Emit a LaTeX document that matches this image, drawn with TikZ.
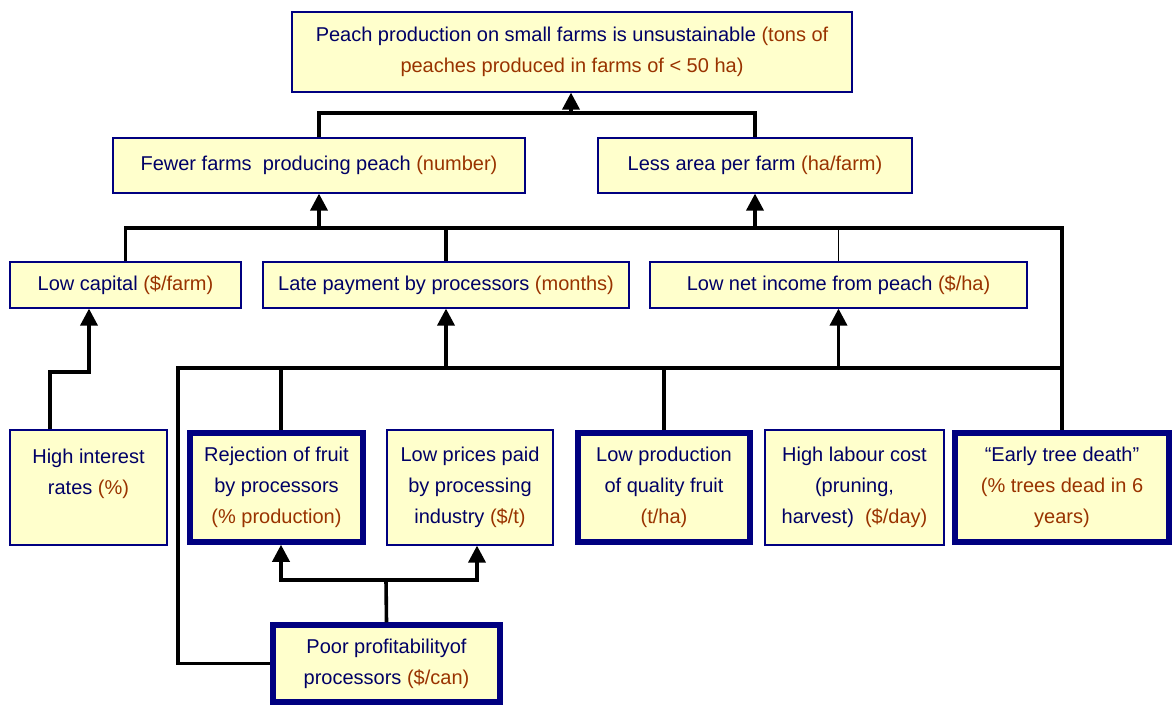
\documentclass[tikz,border=0pt]{standalone}
\usepackage{fontspec}
\setmainfont{Liberation Sans}
\usetikzlibrary{arrows.meta}
\definecolor{boxfill}{HTML}{FFFFCC}
\definecolor{boxline}{HTML}{000080}
\definecolor{txt}{HTML}{000066}
\definecolor{unitc}{HTML}{993300}
\newcommand{\un}[1]{\textcolor{unitc}{#1}}
\begin{document}
\begin{tikzpicture}[x=1pt,y=-1pt,
  box/.style={draw=boxline, line width=1.2pt, fill=boxfill, text=txt,
    align=center, inner sep=0pt, font=\fontsize{20}{31}\selectfont},
  thickbox/.style={box, line width=5.5pt},
  link/.style={line width=3.6pt, black},
  thinlink/.style={line width=1.2pt, black},
  arrowup/.style={-{Triangle[width=17pt,length=17pt]}}]
\useasboundingbox (0,0) rectangle (1175,707);

% top-level effect
\node[box, minimum width=560pt, minimum height=80pt] (top) at (572,52)
  {Peach production on small farms is unsustainable \un{(tons of}\\
   \un{peaches produced in farms of < 50 ha)}};

% second level
\node[box, minimum width=412pt, minimum height=55pt] (fewer) at (319,165.5)
  {Fewer farms\ \ producing peach \un{(number)}};
\node[box, minimum width=314pt, minimum height=55pt] (less) at (755,165.5)
  {Less area per farm \un{(ha/farm)}};

% third level
\node[box, minimum width=231pt, minimum height=46pt] (lowcap) at (125.5,285)
  {Low capital \un{(\$/farm)}};
\node[box, minimum width=366pt, minimum height=46pt] (late) at (446,285)
  {Late payment by processors \un{(months)}};
\node[box, minimum width=377pt, minimum height=46pt] (lownet) at (838.5,285)
  {Low net income from peach \un{(\$/ha)}};

% root causes
\node[box, minimum width=157pt, minimum height=115pt] (hi) at (88.5,487.5)
  {High interest\\rates \un{(\%)}\\\mbox{}};
\node[thickbox, minimum width=173pt, minimum height=109pt] (rej) at (276.5,487.5)
  {Rejection of fruit\\by processors\\\un{(\% production)}};
\node[box, minimum width=166pt, minimum height=115pt] (lowpr) at (470,487.5)
  {Low prices paid\\by processing\\industry \un{(\$/t)}};
\node[thickbox, minimum width=172pt, minimum height=109pt] (lowprod) at (664,487.5)
  {Low production\\of quality fruit\\\un{(t/ha)}};
\node[box, minimum width=179pt, minimum height=115pt] (labour) at (854.5,487.5)
  {High labour cost\\(pruning,\\harvest)\ \ \un{(\$/day)}};
\node[thickbox, minimum width=214pt, minimum height=109pt] (early) at (1062,487.5)
  {``Early tree death''\\\un{(\% trees dead in 6}\\\un{years)}};

% processors
\node[thickbox, minimum width=227pt, minimum height=77pt] (poor) at (386.5,663.5)
  {Poor profitabilityof\\processors \un{(\$/can)}};

% links into the top box
\coordinate (jtop) at (571,113);
\draw[link] (fewer.north) |- (jtop) -| (less.north);
\draw[link,arrowup] (jtop) -- (jtop |- top.south);

% links into the second level
\coordinate (jmid) at (319,228);
\draw[link] (lowcap.north) |- (late.north |- jmid) -- (late.north);
\draw[link] (late.north |- jmid) -- (less.south |- jmid)
  -- (early.north |- jmid) -- (early.north);
\draw[link,arrowup] (fewer.south |- jmid) -- (fewer.south);
\draw[link,arrowup] (less.south |- jmid) -- (less.south);
\draw[thinlink] (lownet.north) -- (lownet.north |- jmid);

% bus feeding the third level
\coordinate (bus) at (178,368);
\draw[link] (poor.west) -| (bus) -- (early.north |- bus);
\draw[link] ([xshift=4.5pt]rej.north) -- ([xshift=4.5pt]rej.north |- bus);
\draw[link] (lowprod.north) -- (lowprod.north |- bus);
\draw[link,arrowup] (late.south |- bus) -- (late.south);
\draw[link,arrowup] (lownet.south |- bus) -- (lownet.south);

% interest rates to capital
\coordinate (hik) at (89,372);
\draw[link,arrowup] ([xshift=-38.5pt]hi.north) |- (hik) -- (hik |- lowcap.south);

% processors' profitability
\coordinate (pk) at (386,580);
\draw[link] (poor.north) -- (pk);
\draw[link,arrowup] (pk) -| ([xshift=4.5pt]rej.south);
\draw[link,arrowup] (pk) -| ([xshift=7pt]lowpr.south);
\end{tikzpicture}
\end{document}
